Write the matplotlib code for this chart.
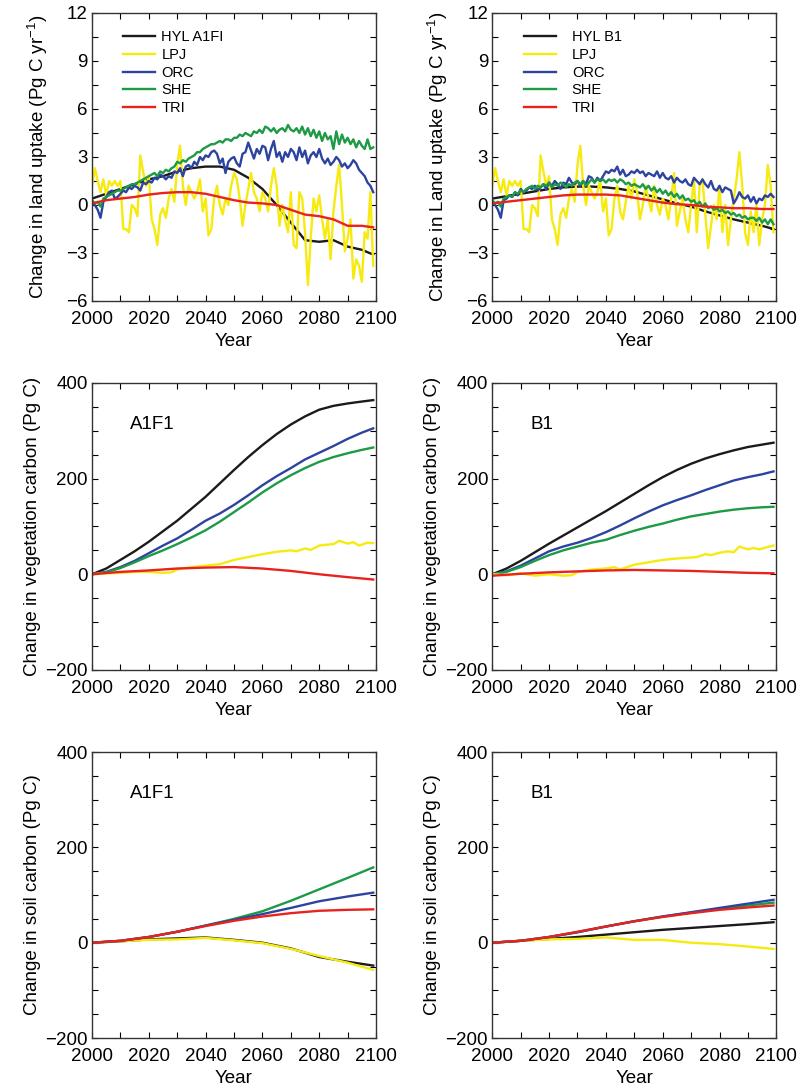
import numpy as np
import matplotlib
matplotlib.use('Agg')
import matplotlib.pyplot as plt
from matplotlib.ticker import MultipleLocator

plt.rcParams['font.family'] = ['Liberation Sans', 'DejaVu Sans']
plt.rcParams['mathtext.fontset'] = 'custom'
plt.rcParams['mathtext.rm'] = 'Liberation Sans'
plt.rcParams['mathtext.default'] = 'regular'

# colours of the five models
c_hyl = '#1c1a1a'
c_lpj = '#f7ea10'
c_orc = '#2d43a0'
c_she = '#1d9a45'
c_tri = '#e8231f'

# ---- top row: annual land uptake (Pg C / yr) ----
years = np.arange(2000, 2100)
yr5 = [2000, 2005, 2010, 2015, 2020, 2025, 2030, 2035, 2040, 2045, 2050,
       2055, 2060, 2065, 2070, 2075, 2080, 2085, 2090, 2095, 2099]

lpj_a1 = [1.2, 2.3, 1.5, 0.8, 1.6, 0.6, 1.5, 1.2, 1.5, 1.2,
          1.5, -1.5, -1.5, -1.7, 0.0, -0.2, -0.7, 3.1, 2.1, 1.2,
          1.8, -0.9, -1.5, -2.5, -0.6, -0.2, -0.8, 0.4, 1.0, 0.2,
          2.5, 3.7, 1.2, 0.0, 1.2, 0.8, 0.4, 0.8, 1.6, -0.4,
          0.4, -1.9, -1.5, 0.4, 1.2, 0.0, -0.6, 0.4, 0.0, 1.2,
          2.0, 1.6, 0.4, -1.3, 0.0, 1.0, 2.0, 0.8, 0.4, -0.4,
          0.8, 0.4, -0.4, 1.2, 2.3, 1.2, -1.3, 0.0, -0.9, -1.7,
          0.8, -2.5, -2.7, 0.8, 0.4, -1.7, -5.0, -2.1, 0.4, -0.4,
          0.6, -0.9, -2.1, -0.9, -3.4, -0.4, 1.2, 2.5, 0.0, -2.9,
          -2.1, -0.9, -4.6, -3.4, -3.8, -4.8, -1.7, -2.1, 0.8, -3.8]
orc_a1 = [0.2, 0.0, -0.3, -0.8, 0.2, 0.5, 0.8, 0.9, 0.4, 0.5,
          0.7, 0.9, 0.8, 1.1, 1.0, 1.2, 1.1, 0.9, 1.4, 1.3,
          1.5, 1.4, 1.7, 1.6, 1.9, 1.8, 1.6, 1.8, 1.7, 2.1,
          2.0, 2.3, 1.8, 2.4, 2.5, 2.3, 2.7, 2.5, 3.0, 2.8,
          3.1, 3.0, 3.3, 3.4, 3.2, 2.6, 2.9, 2.0, 2.7, 2.9,
          3.0, 2.6, 2.4, 3.2, 3.3, 3.9, 3.4, 2.9, 3.5, 3.2,
          3.7, 3.6, 2.8, 3.5, 4.0, 3.0, 3.3, 2.7, 3.3, 3.0,
          3.5, 3.3, 2.8, 3.6, 3.0, 3.4, 2.6, 3.1, 3.3, 3.0,
          3.5, 2.9, 2.6, 2.9, 2.5, 2.7, 3.0, 2.8, 2.4, 2.6,
          2.3, 2.5, 2.8, 2.6, 2.2, 2.0, 1.8, 1.4, 1.2, 0.8]
she_a1 = [0.3, 0.1, 0.2, -0.1, 0.4, 0.5, 0.6, 0.7, 0.8, 0.9,
          0.9, 1.0, 1.1, 1.2, 1.3, 1.3, 1.4, 1.5, 1.6, 1.7,
          1.8, 1.9, 2.0, 1.8, 2.1, 2.0, 2.2, 2.1, 2.3, 2.4,
          2.7, 2.6, 2.8, 2.7, 2.9, 3.0, 3.1, 3.3, 3.3, 3.5,
          3.6, 3.7, 3.8, 3.8, 3.9, 4.0, 3.9, 4.1, 4.1, 4.0,
          4.2, 4.2, 4.4, 4.3, 4.5, 4.4, 4.3, 4.6, 4.5, 4.7,
          4.5, 4.9, 4.8, 4.6, 4.8, 4.5, 4.7, 4.8, 4.6, 5.0,
          4.7, 4.6, 4.8, 4.5, 4.9, 4.4, 4.8, 4.3, 4.7, 4.2,
          4.6, 4.0, 4.5, 4.1, 4.3, 3.5, 4.6, 3.8, 4.4, 3.9,
          4.2, 3.8, 4.1, 3.6, 4.0, 3.7, 3.5, 4.1, 3.5, 3.6]
hyl_a1 = [0.4, 0.7, 1.0, 1.3, 1.6, 1.8, 2.1, 2.3, 2.4, 2.4, 2.2,
          1.7, 1.0, 0.0, -1.1, -2.2, -2.3, -2.2, -2.6, -2.8, -3.1]
tri_a1 = [0.1, 0.3, 0.4, 0.5, 0.65, 0.75, 0.8, 0.8, 0.7, 0.5, 0.3,
          0.15, 0.1, 0.0, -0.3, -0.6, -0.7, -0.9, -1.3, -1.3, -1.4]

lpj_b1 = [1.2, 2.3, 1.5, 0.8, 1.6, 0.6, 1.5, 1.2, 1.5, 1.2,
          1.5, -1.5, -1.5, -1.7, 0.0, -0.2, -0.7, 3.1, 2.1, 1.2,
          1.8, -0.9, -1.5, -2.5, -0.6, -0.2, -0.8, 0.4, 1.0, 0.2,
          2.5, 3.7, 1.2, 0.0, 1.2, 0.8, 0.4, 0.8, 1.6, -0.4,
          0.4, -1.9, -1.5, 0.4, 1.2, -0.4, -0.9, 0.2, 1.2, 0.4,
          1.6, 0.8, -0.9, 0.0, 1.2, 0.4, -0.4, 1.2, 0.0, -0.6,
          0.4, 0.0, -0.9, 0.4, 2.0, -1.3, -0.4, 0.4, -0.9, -1.7,
          0.0, 1.6, -1.7, 1.2, 1.6, -0.6, -2.7, -1.3, 0.0, -0.9,
          1.2, -1.7, 0.0, -2.5, -0.9, 0.4, 1.6, 3.3, 1.2, -1.7,
          -2.5, -0.4, -1.7, 0.0, -2.5, -0.9, 0.0, 2.5, 1.2, -1.7]
orc_b1 = [0.2, 0.0, -0.3, -0.8, 0.3, 0.4, 0.6, 0.5, 0.8, 0.6,
          1.0, 0.8, 0.9, 1.1, 1.0, 1.2, 0.9, 1.1, 1.3, 1.0,
          1.4, 1.2, 1.5, 1.3, 1.0, 1.4, 1.3, 1.7, 1.4, 1.3,
          1.5, 1.2, 1.5, 1.3, 1.8, 1.7, 1.4, 1.7, 1.5, 1.8,
          2.1, 2.0, 2.2, 2.1, 2.4, 1.9, 2.2, 1.8, 1.9, 2.1,
          2.0, 2.2, 2.0, 2.1, 1.8, 2.0, 1.9, 1.8, 2.1, 1.7,
          2.0, 1.7, 1.6, 1.8, 1.4, 1.7, 1.5, 1.4, 1.6, 1.3,
          1.2, 1.7, 1.5, 1.3, 1.6, 1.3, 1.1, 1.5, 1.0, 0.9,
          1.2, 0.8, 1.1, 1.0, 0.9, 0.1, 0.4, 0.8, 0.5, 0.4,
          0.6, 0.2, 0.5, 0.1, 0.4, 0.3, 0.6, 0.5, 0.7, 0.5]
she_b1 = [0.3, 0.1, 0.2, -0.1, 0.4, 0.5, 0.6, 0.5, 0.8, 0.7,
          0.9, 0.8, 1.0, 1.1, 1.2, 1.0, 1.2, 1.1, 1.3, 1.2,
          1.4, 1.1, 1.3, 1.2, 1.4, 1.3, 1.1, 1.3, 1.2, 1.4,
          1.5, 1.3, 1.5, 1.2, 1.4, 1.6, 1.4, 1.6, 1.5, 1.6,
          1.4, 1.6, 1.5, 1.6, 1.4, 1.6, 1.5, 1.3, 1.4, 1.2,
          1.3, 1.2, 1.1, 1.3, 1.0, 1.2, 0.9, 1.1, 0.8, 1.0,
          0.7, 0.9, 0.6, 0.8, 0.5, 0.7, 0.4, 0.6, 0.3, 0.4,
          0.2, 0.3, 0.0, 0.2, -0.1, 0.1, -0.2, -0.1, -0.3, -0.2,
          -0.4, -0.3, -0.5, -0.4, -0.6, -0.5, -0.7, -0.6, -0.8, -0.7,
          -0.9, -0.8, -0.8, -1.0, -0.8, -1.1, -0.9, -1.2, -0.9, -1.2]
hyl_b1 = [0.4, 0.55, 0.7, 0.85, 1.0, 1.1, 1.15, 1.15, 1.1, 1.0, 0.85,
          0.6, 0.35, 0.1, -0.1, -0.4, -0.65, -0.9, -1.1, -1.3, -1.5]
tri_b1 = [0.1, 0.2, 0.3, 0.4, 0.5, 0.6, 0.65, 0.65, 0.65, 0.6, 0.45,
          0.3, 0.15, 0.05, 0.0, -0.1, -0.15, -0.2, -0.2, -0.25, -0.25]

# ---- middle row: vegetation carbon (Pg C) ----
veg_hyl_a1 = [0, 12, 30, 48, 68, 90, 112, 137, 162, 190, 218,
              245, 270, 293, 313, 330, 344, 352, 357, 361, 364]
veg_orc_a1 = [0, 5, 15, 28, 44, 60, 75, 93, 112, 127, 145,
              165, 186, 205, 222, 240, 254, 268, 283, 296, 305]
veg_she_a1 = [0, 4, 13, 25, 38, 50, 63, 77, 92, 110, 130,
              150, 171, 190, 207, 222, 235, 245, 253, 260, 265]
veg_lpj_yr = [2000, 2005, 2010, 2015, 2020, 2025, 2028, 2030, 2035, 2040, 2043,
              2045, 2050, 2055, 2060, 2065, 2070, 2072, 2075, 2077, 2080,
              2083, 2085, 2087, 2090, 2092, 2094, 2097, 2099]
veg_lpj_a1 = [0, 2, 3, 5, 5, 3, 4, 10, 15, 18, 20,
              21, 30, 36, 42, 47, 50, 48, 54, 51, 60,
              62, 63, 70, 64, 67, 60, 66, 65]
veg_tri_yr = [2000, 2010, 2020, 2030, 2040, 2050, 2060, 2070, 2080, 2090, 2099]
veg_tri_a1 = [0, 5, 8, 12, 14, 15, 12, 7, 0, -6, -11]

veg_hyl_b1 = [0, 12, 28, 46, 64, 81, 98, 115, 132, 150, 168,
              186, 203, 218, 231, 242, 251, 259, 266, 271, 275]
veg_orc_b1 = [0, 6, 18, 33, 48, 58, 66, 76, 88, 102, 117,
              131, 144, 155, 165, 176, 186, 196, 203, 209, 215]
veg_she_b1 = [0, 5, 15, 28, 40, 50, 58, 66, 72, 82, 91,
              99, 106, 114, 121, 126, 131, 135, 138, 140, 141]
veg_lpj_b1 = [0, -2, 2, -3, 0, -3, -2, 5, 10, 12, 15,
              10, 20, 25, 30, 33, 35, 36, 42, 40, 45,
              48, 46, 58, 52, 55, 52, 57, 60]
veg_tri_b1 = [-3, 1, 4, 6, 8, 9, 8, 7, 5, 3, 2]

# ---- bottom row: soil carbon (Pg C) ----
soil_yr = [2000, 2010, 2020, 2030, 2040, 2050, 2060, 2070, 2080, 2090, 2099]
soil_hyl_a1 = [0, 3, 7, 9, 11, 6, 0, -12, -30, -40, -48]
soil_lpj_a1 = [0, 3, 6, 7, 10, 5, -1, -13, -28, -42, -57]
soil_orc_a1 = [0, 4, 12, 23, 36, 48, 60, 73, 87, 97, 105]
soil_she_a1 = [0, 4, 12, 23, 36, 50, 66, 88, 112, 136, 158]
soil_tri_a1 = [0, 4, 12, 23, 35, 46, 55, 62, 67, 69, 70]

soil_hyl_b1 = [0, 4, 8, 12, 17, 22, 27, 31, 35, 39, 43]
soil_lpj_b1 = [0, 4, 7, 8, 11, 6, 6, 0, -3, -8, -13]
soil_orc_b1 = [0, 4, 12, 22, 34, 45, 55, 64, 73, 82, 90]
soil_she_b1 = [0, 4, 12, 22, 34, 45, 55, 63, 71, 78, 84]
soil_tri_b1 = [0, 4, 12, 23, 34, 45, 54, 62, 69, 74, 78]

fig = plt.figure(figsize=(8.07, 10.89), dpi=100)

left_x = [0.114, 0.610]
w = 0.352
rows = [(0.7236, 0.2645), (0.3848, 0.2636), (0.0468, 0.2626)]

fs_tick = 13.5
fs_lab = 13.5


def style(ax, ylim, major, minor):
    ax.set_xlim(2000, 2100)
    ax.set_ylim(*ylim)
    ax.xaxis.set_major_locator(MultipleLocator(20))
    ax.xaxis.set_minor_locator(MultipleLocator(10))
    ax.yaxis.set_major_locator(MultipleLocator(major))
    ax.yaxis.set_minor_locator(MultipleLocator(minor))
    ax.tick_params(which='both', direction='in', top=True, right=True,
                   labelsize=fs_tick, width=0.8, length=4)
    ax.tick_params(axis='x', pad=7)
    ax.tick_params(axis='y', pad=3)
    for s in ax.spines.values():
        s.set_linewidth(1.0)
        s.set_color('#333333')
    ax.set_xlabel('Year', fontsize=fs_lab, labelpad=4)


lw = 1.7

# top left
ax = fig.add_axes([left_x[0], rows[0][0], w, rows[0][1]])
ax.plot(yr5, hyl_a1, color=c_hyl, lw=lw, label='HYL A1FI')
ax.plot(years, lpj_a1, color=c_lpj, lw=lw, label='LPJ')
ax.plot(years, orc_a1, color=c_orc, lw=lw, label='ORC')
ax.plot(years, she_a1, color=c_she, lw=lw, label='SHE')
ax.plot(yr5, tri_a1, color=c_tri, lw=lw, label='TRI')
style(ax, (-6, 12), 3, 1.5)
ax.set_ylabel(r'Change in land uptake (Pg C yr$^{-1}$)', fontsize=fs_lab, labelpad=12)
ax.legend(loc='upper left', bbox_to_anchor=(0.09, 0.96), frameon=False,
          fontsize=10.5, handlelength=2.2, handletextpad=0.4,
          labelspacing=0.25, borderaxespad=0)

# top right
ax = fig.add_axes([left_x[1], rows[0][0], w, rows[0][1]])
ax.plot(yr5, hyl_b1, color=c_hyl, lw=lw, label='HYL B1')
ax.plot(years, lpj_b1, color=c_lpj, lw=lw, label='LPJ')
ax.plot(years, orc_b1, color=c_orc, lw=lw, label='ORC')
ax.plot(years, she_b1, color=c_she, lw=lw, label='SHE')
ax.plot(yr5, tri_b1, color=c_tri, lw=lw, label='TRI')
style(ax, (-6, 12), 3, 1.5)
ax.set_ylabel(r'Change in Land uptake (Pg C yr$^{-1}$)', fontsize=fs_lab, labelpad=12)
ax.legend(loc='upper left', bbox_to_anchor=(0.09, 0.96), frameon=False,
          fontsize=10.5, handlelength=2.2, handletextpad=1.1,
          labelspacing=0.25, borderaxespad=0)

# middle row
for i, (hyl, orc, she, lpj, tri, tag) in enumerate([
        (veg_hyl_a1, veg_orc_a1, veg_she_a1, veg_lpj_a1, veg_tri_a1, 'A1F1'),
        (veg_hyl_b1, veg_orc_b1, veg_she_b1, veg_lpj_b1, veg_tri_b1, 'B1')]):
    ax = fig.add_axes([left_x[i], rows[1][0], w, rows[1][1]])
    ax.plot(yr5, hyl, color=c_hyl, lw=lw)
    ax.plot(yr5, orc, color=c_orc, lw=lw)
    ax.plot(yr5, she, color=c_she, lw=lw)
    ax.plot(veg_lpj_yr, lpj, color=c_lpj, lw=lw)
    ax.plot(veg_tri_yr, tri, color=c_tri, lw=lw)
    style(ax, (-200, 400), 200, 50)
    ax.set_ylabel('Change in vegetation carbon (Pg C)', fontsize=fs_lab, labelpad=3)
    ax.text(0.135, 0.84, tag, transform=ax.transAxes, fontsize=13.5)

# bottom row
for i, (hyl, lpj, orc, she, tri, tag) in enumerate([
        (soil_hyl_a1, soil_lpj_a1, soil_orc_a1, soil_she_a1, soil_tri_a1, 'A1F1'),
        (soil_hyl_b1, soil_lpj_b1, soil_orc_b1, soil_she_b1, soil_tri_b1, 'B1')]):
    ax = fig.add_axes([left_x[i], rows[2][0], w, rows[2][1]])
    ax.plot(soil_yr, hyl, color=c_hyl, lw=lw)
    ax.plot(soil_yr, lpj, color=c_lpj, lw=lw)
    ax.plot(soil_yr, she, color=c_she, lw=lw)
    ax.plot(soil_yr, orc, color=c_orc, lw=lw)
    ax.plot(soil_yr, tri, color=c_tri, lw=lw)
    style(ax, (-200, 400), 200, 50)
    ax.set_ylabel('Change in soil carbon (Pg C)', fontsize=fs_lab, labelpad=3)
    ax.text(0.135, 0.84, tag, transform=ax.transAxes, fontsize=13.5)

fig.savefig('out.png', dpi=100)
